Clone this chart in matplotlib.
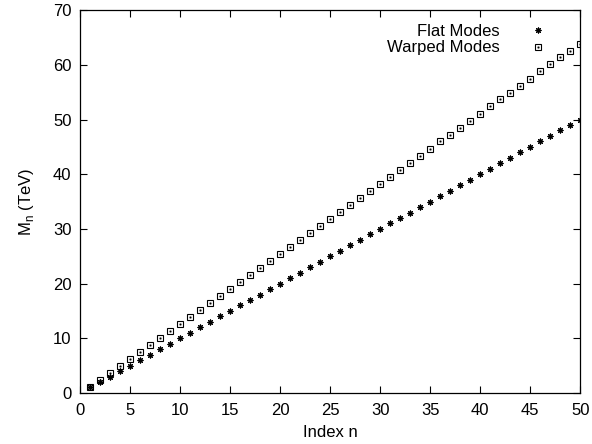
import matplotlib
matplotlib.use("Agg")
import matplotlib.pyplot as plt

plt.rcParams['font.family'] = ['Liberation Sans', 'DejaVu Sans']

index_n = list(range(1, 51))
flat_modes = [1, 2, 3, 4, 5, 6, 7, 8, 9, 10,
              11, 12, 13, 14, 15, 16, 17, 18, 19, 20,
              21, 22, 23, 24, 25, 26, 27, 28, 29, 30,
              31, 32, 33, 34, 35, 36, 37, 38, 39, 40,
              41, 42, 43, 44, 45, 46, 47, 48, 49, 50]
warped_modes = [1.0, 2.3, 3.6, 4.9, 6.2, 7.5, 8.7, 10.0, 11.3, 12.6,
                13.9, 15.2, 16.4, 17.7, 19.0, 20.3, 21.6, 22.9, 24.1, 25.4,
                26.7, 28.0, 29.3, 30.6, 31.8, 33.1, 34.4, 35.7, 37.0, 38.3,
                39.5, 40.8, 42.1, 43.4, 44.7, 46.0, 47.2, 48.5, 49.8, 51.1,
                52.4, 53.7, 54.9, 56.2, 57.5, 58.8, 60.1, 61.4, 62.6, 63.9]

fig = plt.figure(figsize=(5.92, 4.44), dpi=100)
ax = fig.add_axes([0.135, 0.115, 0.845, 0.862])

fl, = ax.plot(index_n, flat_modes, ls='none', marker=(8, 2, 0), ms=4.2,
              mec='black', mew=0.8, color='black')
wp, = ax.plot(index_n, warped_modes, ls='none', marker='s', ms=4.4,
              mfc='none', mec='black', mew=0.8)
wd, = ax.plot(index_n, warped_modes, ls='none', marker='s', ms=1.0,
              mfc='black', mec='black', mew=0.3)

ax.set_xlim(0, 50)
ax.set_ylim(0, 70)
ax.set_xticks(range(0, 51, 5))
ax.set_yticks(range(0, 71, 10))
ax.tick_params(direction='in', top=True, right=True, labelsize=12,
               length=5, width=0.8, pad=6)
ax.tick_params(axis='x', pad=7.5)
for s in ax.spines.values():
    s.set_linewidth(0.9)

ax.set_xlabel('Index n', fontsize=12, labelpad=5)
ax.set_ylabel('M$_\\mathregular{n}$ (TeV)', fontsize=12, labelpad=12)

leg = ax.legend([fl, (wp, wd)], ['Flat Modes', 'Warped Modes'],
                loc='upper right', bbox_to_anchor=(0.95, 0.982),
                frameon=False, fontsize=12,
                markerfirst=False, handlelength=1.2, handletextpad=1.75,
                borderaxespad=0.0, labelspacing=0.1)
for t in leg.get_texts():
    t.set_ha('right')
leg._legend_box.align = 'right'

fig.savefig('out.png', dpi=100)
